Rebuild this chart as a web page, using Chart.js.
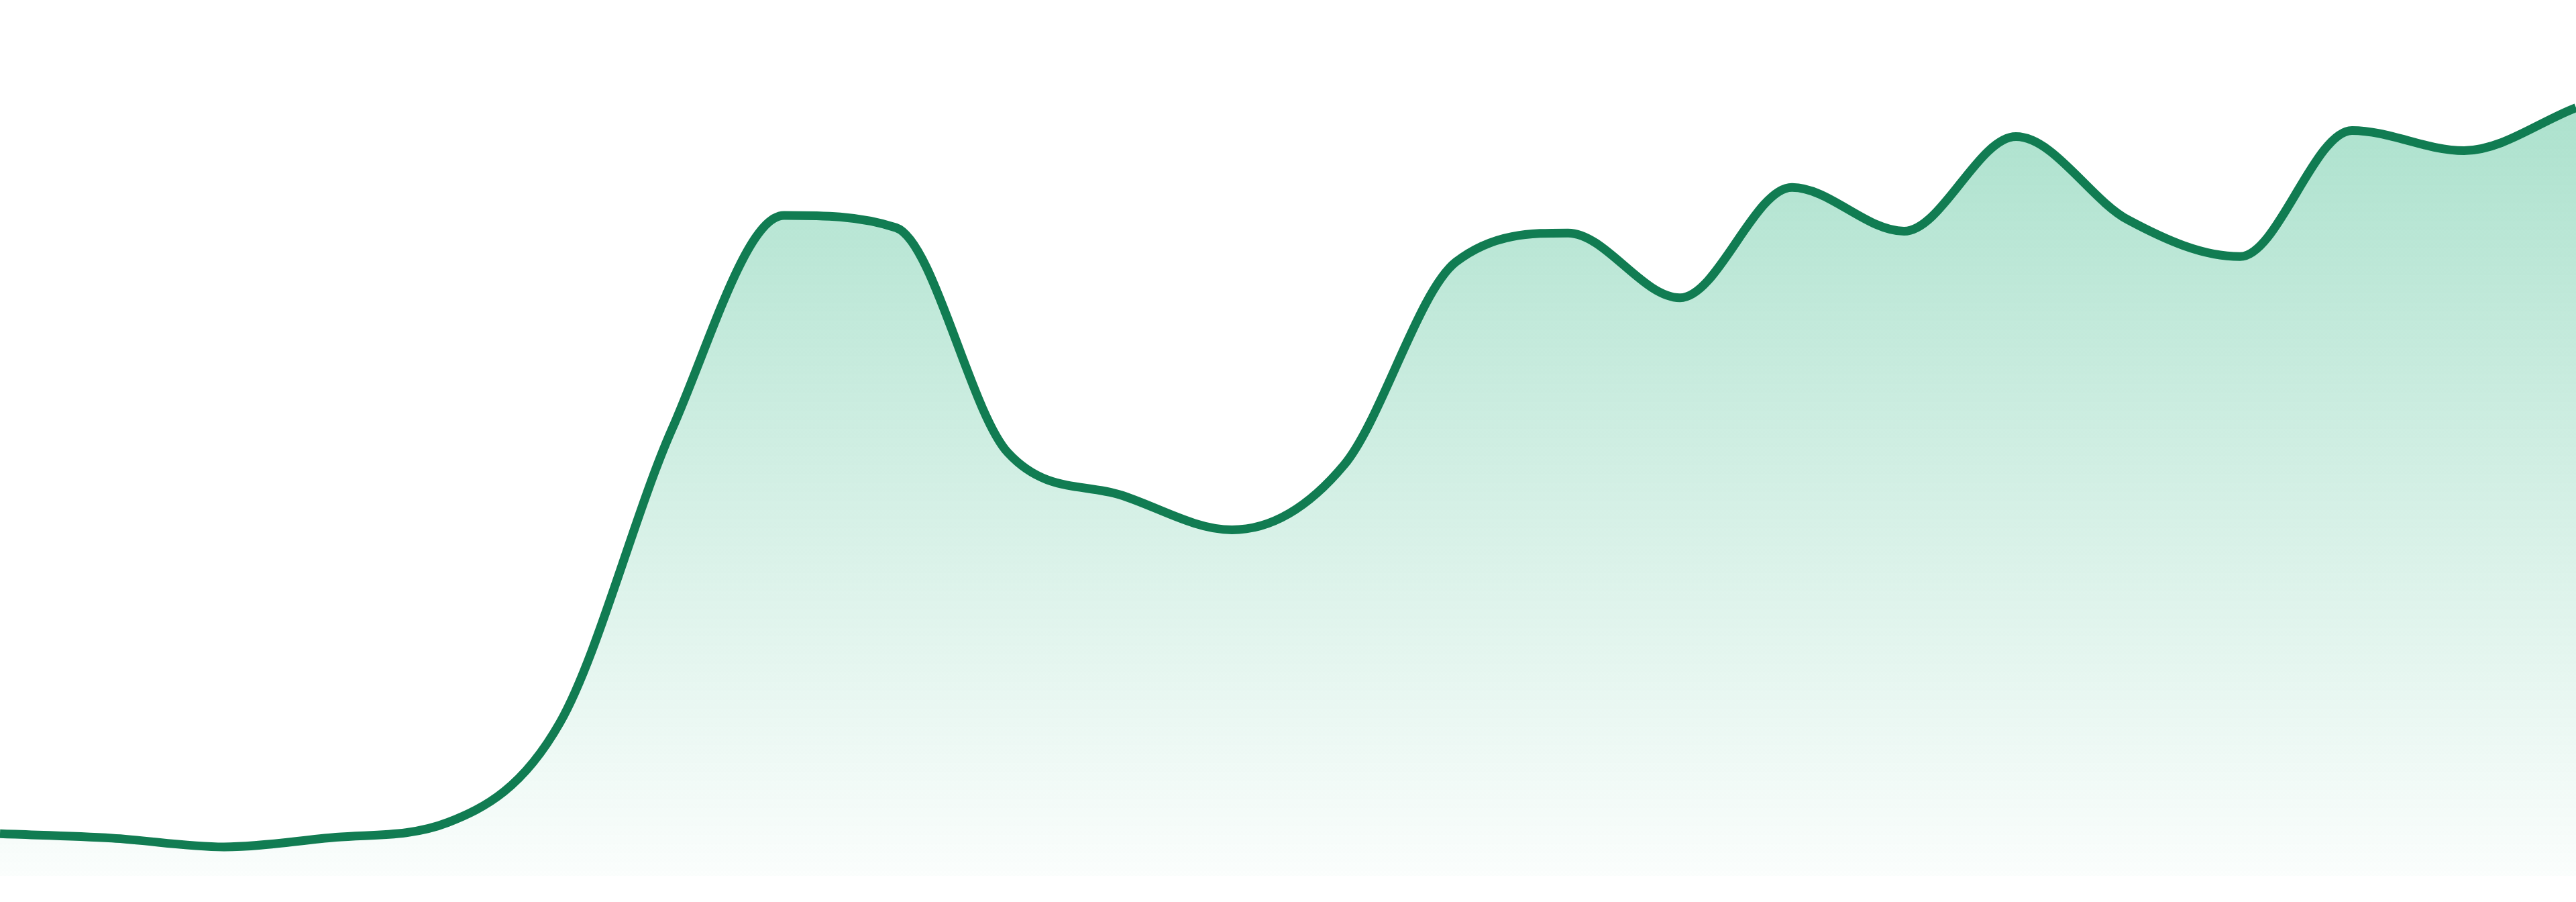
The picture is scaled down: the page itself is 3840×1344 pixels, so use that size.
<!DOCTYPE html>
<html>
<head>
<meta charset="utf-8">
<title>Area chart</title>
<script src="https://cdn.jsdelivr.net/npm/chart.js@4.4.1/dist/chart.umd.min.js"></script>
<style>
    html, body { margin: 0; padding: 0; background: #ffffff; }
    .chart-box { width: 3840px; height: 1344px; position: relative; }
</style>
</head>
<body>
<div class="chart-box">
    <canvas id="area_chart"></canvas>
</div>
<script>
// one point per step (0 - 100 scale)
const labels = [
    "1", "2", "3", "4", "5", "6", "7", "8", "9", "10", "11", "12",
    "13", "14", "15", "16", "17", "18", "19", "20", "21", "22", "23", "24"
];
const values = [
    4.8, 4.3, 3.3, 4.4, 6.1, 17.5, 51.0, 75.4, 74.0, 48.3, 43.5, 39.5,
    46.9, 70.1, 73.4, 66.0, 78.6, 73.6, 84.4, 74.9, 70.7, 85.1, 82.8, 87.7
];
const yMin = 0;
const yMax = 100;

const ctx = document.getElementById("area_chart").getContext("2d");

const areaFill = function (context) {
    const area = context.chart.chartArea;
    if (!area) return "rgba(22, 172, 115, 0.2)";
    const grad = context.chart.ctx.createLinearGradient(0, area.top, 0, area.bottom);
    grad.addColorStop(0, "rgba(22, 172, 115, 0.40)");
    grad.addColorStop(1, "rgba(22, 172, 115, 0.02)");
    return grad;
};

const myChart = new Chart(ctx, {
    type: "line",
    data: {
        labels: labels,
        datasets: [
            {
                data: values,
                borderColor: "#117c52",
                borderWidth: 13,
                backgroundColor: areaFill,
                fill: "start",
                cubicInterpolationMode: "monotone",
                pointRadius: 0,
                pointHoverRadius: 0,
            },
        ],
    },
    options: {
        responsive: true,
        maintainAspectRatio: false,
        animation: false,
        devicePixelRatio: 1,
        layout: {
            padding: { top: 0, left: 0, right: 0, bottom: 39 },
        },
        plugins: {
            legend: { display: false },
            tooltip: { enabled: false },
        },
        scales: {
            x: { display: false, offset: false },
            y: { display: false, min: yMin, max: yMax },
        },
    },
});
</script>
</body>
</html>
